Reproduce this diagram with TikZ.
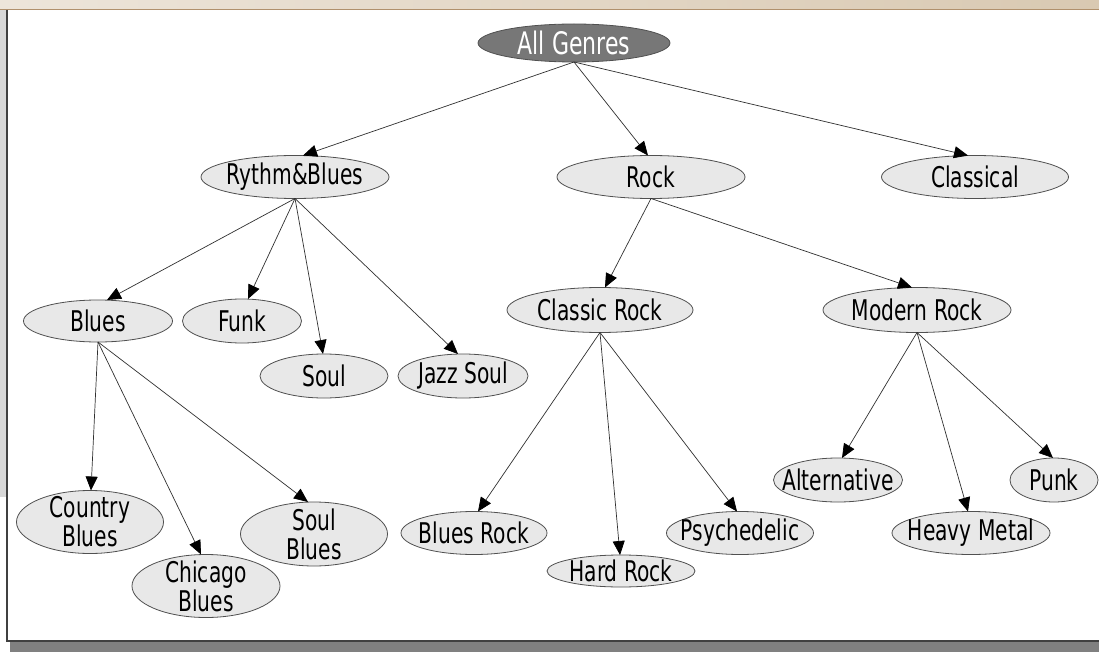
\documentclass[tikz,border=0pt]{standalone}
\usepackage{fontspec}
\newfontfamily\gfont[FakeStretch=0.71]{DejaVu Sans}
\usetikzlibrary{shapes.geometric,arrows.meta}
\definecolor{nodefill}{HTML}{E8E8E8}
\definecolor{rootfill}{HTML}{777777}
\definecolor{nodeline}{HTML}{505050}
\definecolor{edgeline}{HTML}{303030}
\definecolor{bandL}{HTML}{EDE5DA}
\definecolor{bandR}{HTML}{D9C9B2}
\definecolor{bandline}{HTML}{B0906C}
\definecolor{framecol}{HTML}{404040}
\definecolor{shadowcol}{HTML}{808080}
\definecolor{stripcol}{HTML}{D8D8D8}
\begin{document}
\begin{tikzpicture}[x=1pt,y=-1pt,
  genre/.style={ellipse, draw=nodeline, line width=0.8pt, fill=nodefill,
    inner xsep=-60pt, inner ysep=-40pt, outer sep=0pt, align=center,
    font=\gfont\fontsize{28.5}{29}\selectfont, text=black},
  root/.style={genre, fill=rootfill, text=white, font=\gfont\fontsize{31}{31}\selectfont},
  sz/.style 2 args={minimum width=#1pt, minimum height=#2pt},
  edge/.style={draw=edgeline, line width=0.7pt, -{Triangle[length=14pt,width=12pt,color=black]}}]
\useasboundingbox (0,0) rectangle (1099,652);
% frame
\fill[white] (0,0) rectangle (1099,652);
\shade[left color=bandL, right color=bandR] (0,0) rectangle (1099,9);
\draw[bandline, line width=1.5pt] (0,9.5) -- (1099,9.5);
\fill[stripcol] (0,10) rectangle (6,497);
\fill[shadowcol] (10,642) rectangle (1099,652);
\draw[framecol, line width=1.5pt] (7,10) -- (7,641) -- (1099,641);
% nodes
\node[root, sz={192}{38}] (ag) at (574,43) {All Genres};
\node[genre, sz={188}{43}] (rb) at (295,177) {Rythm\&Blues};
\node[genre, sz={188}{43}] (rock) at (651,177) {Rock};
\node[genre, sz={187}{43}] (cls) at (975,177) {Classical};
\node[genre, sz={149}{42}] (blues) at (98,321) {Blues};
\node[genre, sz={119}{44}] (funk) at (242,321) {Funk};
\node[genre, sz={128}{44}] (soul) at (324,376) {Soul};
\node[genre, sz={130}{44}] (jazz) at (463,376) {Jazz Soul};
\node[genre, sz={186}{45}] (crock) at (600,310) {Classic Rock};
\node[genre, sz={188}{45}] (mrock) at (917,310) {Modern Rock};
\node[genre, sz={147}{63}] (country) at (90,522) {Country\\Blues};
\node[genre, sz={148}{63}] (chicago) at (206,586) {Chicago\\Blues};
\node[genre, sz={147}{64}] (sblues) at (314,534) {Soul\\Blues};
\node[genre, sz={146}{43}] (brock) at (474,533) {Blues Rock};
\node[genre, sz={148}{32}] (hrock) at (621,571) {Hard Rock};
\node[genre, sz={147}{43}] (psy) at (740,533) {Psychedelic};
\node[genre, sz={129}{44}] (alt) at (838,480) {Alternative};
\node[genre, sz={158}{43}] (hm) at (971,533) {Heavy Metal};
\node[genre, sz={88}{44}] (punk) at (1054,480) {Punk};
% edges
\draw[edge] (ag.south) -- ([xshift=8pt]rb.north);
\draw[edge] (ag.south) -- ([xshift=-3pt]rock.north);
\draw[edge] (ag.south) -- ([xshift=-7pt]cls.north);
\draw[edge] (rb.south) -- ([xshift=9pt]blues.north);
\draw[edge] (rb.south) -- ([xshift=6pt]funk.north);
\draw[edge] (rb.south) -- ([xshift=-1pt]soul.north);
\draw[edge] (rb.south) -- ([xshift=-5pt]jazz.north);
\draw[edge] (blues.south) -- ([xshift=1pt]country.north);
\draw[edge] (blues.south) -- ([xshift=-5pt]chicago.north);
\draw[edge] (blues.south) -- ([xshift=-6pt]sblues.north);
\draw[edge] (rock.south) -- ([xshift=5pt]crock.north);
\draw[edge] (rock.south) -- ([xshift=-5pt]mrock.north);
\draw[edge] (crock.south) -- ([xshift=4pt]brock.north);
\draw[edge] (crock.south) -- ([xshift=-1pt]hrock.north);
\draw[edge] (crock.south) -- ([xshift=-3pt]psy.north);
\draw[edge] (mrock.south) -- ([xshift=4pt]alt.north);
\draw[edge] (mrock.south) -- ([xshift=-3pt]hm.north);
\draw[edge] (mrock.south) -- ([xshift=-1pt]punk.north);
\end{tikzpicture}
\end{document}
